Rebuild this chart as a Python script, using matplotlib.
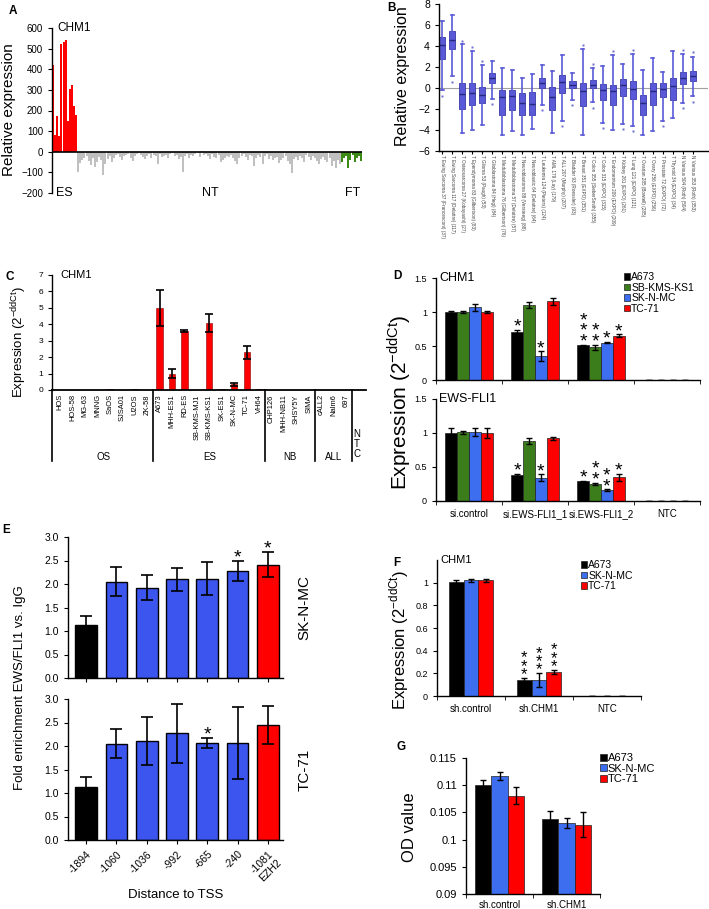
import numpy as np
import matplotlib.pyplot as plt
from matplotlib.patches import Patch

plt.rcParams['font.family'] = ['Liberation Sans', 'DejaVu Sans']
plt.rcParams['axes.linewidth'] = 1.0

# ---------------- data ----------------
# A: CHM1 expression across samples
a_es = [420, 80, 175, 75, 520, 530, 540, 150, 305, 325, 220, 180]
a_nt = [-100, -55, -40, -30, -20, -45, -65, -30, -75, -50, -25, -40, -115, -60, -35, -20,
        -50, -30, -15, -10, -25, -40, -20, -15, -10, -30, -45, -20, -10, -5, -15, -25,
        -35, -20, -10, -30, -15, -20, -60, -10, -25, -20, -15, -30, -10, -5, -20, -15,
        -35, -25, -100, -20, -10, -30, -15, -20, -10, -5, -25, 5, -15, -10, -20, -35,
        -10, -25, -30, -15, -50, -40, -30, -20, -25, -15, -30, -45, -60, -30, -20, -10,
        -25, -40, -15, -20, -70, -30, -15, -25, -60, -20, -10, -35, -20, -40, -30, -25,
        -55, -40, -30, -20, -45, -60, -105, -35, -25, -40, -20, -30, -50, -15, -25, -40,
        -20, -30, -45, -60, -35, -25, -40, -50, -30, -70, -45, -80, -40, -60]
a_ft = [-50, -30, -20, -80, -40, -15, -50, -30, -20, -45]

# B: box plot of datasets
b_labels = ['T Ewing Sarcoma 37 (Francesconi) (37)', 'T Ewing Sarcoma 117 (Delattre) (117)',
            'T Osteosarcoma 27 (Kobayashi) (27)', 'T Ependymoma 83 (Gilbertson) (83)',
            'T Glioma 53 (Paugh) (53)', 'T Glioblastoma 84 (Hegi) (84)',
            'T Medulloblastoma 76 (Gilbertson) (76)', 'T Medulloblastoma 57 (Delattre) (57)',
            'T Neuroblastoma 88 (Versteeg) (88)', 'T Neuroblastic 64 (Delattre) (64)',
            'T Leukemia 124 (Pieters) (124)', 'T AML 179 (Lay) (179)',
            'T ALL 207 (Murphy) (207)', 'T Bladder 93 (Roessler) (93)',
            'T Breast 351 (EXPO) (351)', 'T Colon 355 (SieberSmith) (355)',
            'T Colon 315 (EXPO) (315)', 'T Endometrium 209 (EXPO) (209)',
            'T Kidney 261 (EXPO) (261)', 'T Lung 121 (EXPO) (121)',
            'T Ovarian 285 (Bowtell) (285)', 'T Ovary 256 (EXPO) (256)',
            'T Prostate 72 (EXPO) (72)', 'T Thyroid 34 (EXPO) (34)',
            'N Various 504 (Roth) (504)', 'N Various 353 (Roth) (353)']
b_med = [4.1, 4.6, -0.6, -0.5, -0.7, 1.0, -0.9, -0.8, -1.4, -1.5, 0.5, -0.9, 0.6,
         0.3, -0.3, 0.3, -0.2, -0.3, 0.3, -0.1, -1.4, -0.3, -0.1, 0.2, 1.0, 1.1]
b_q1 = [2.8, 3.7, -2.0, -1.6, -1.4, 0.5, -2.6, -2.1, -2.6, -2.6, 0.0, -2.1, -0.5,
        0.0, -1.7, 0.0, -1.1, -1.6, -0.8, -1.0, -2.6, -1.6, -0.9, -1.1, 0.4, 0.7]
b_q3 = [4.9, 5.4, 0.5, 0.5, 0.1, 1.4, -0.2, -0.2, -0.5, -0.4, 1.0, 0.1, 1.2,
        0.7, 0.5, 0.8, 0.4, 0.3, 0.9, 0.7, -0.7, 0.5, 0.5, 1.0, 1.5, 1.6]
b_lo = [-0.2, 1.1, -4.3, -4.0, -3.5, -1.0, -4.5, -4.1, -4.5, -3.9, -1.6, -4.3, -3.1,
        -1.1, -4.5, -1.3, -3.3, -4.0, -3.4, -3.6, -4.5, -4.1, -3.1, -2.9, -1.4, -0.8]
b_hi = [6.4, 7.0, 4.2, 3.5, 2.2, 2.6, 1.9, 1.7, 1.0, 1.3, 2.2, 1.6, 3.1,
        1.4, 3.7, 1.9, 2.1, 3.1, 2.3, 3.2, 1.7, 2.9, 1.5, 3.5, 3.2, 3.0]
b_out = [[-0.8], [0.6], [4.5], [3.9], [2.6], [-1.5], [], [], [], [], [-2.1], [], [-3.6],
         [-1.6], [4.1], [2.3, -1.9], [-3.8], [3.5], [-3.9], [3.6, -4.1], [], [], [-3.6],
         [], [3.6, -1.9], [3.4, -1.3]]

# C: CHM1 in cell lines
c_groups = ['OS', 'ES', 'NB', 'ALL', '']
c_cells = [['HOS', 'HOS-58', 'MG-63', 'MNNG', 'SaOS', 'SJSA01', 'U2OS', 'ZK-58'],
           ['A673', 'MHH-ES1', 'RD-ES', 'SB-KMS-MJ1', 'SB-KMS-KS1', 'SK-ES1', 'SK-N-MC', 'TC-71', 'VH64'],
           ['CHP126', 'MHH-NB11', 'SHSY5Y', 'SIMA'],
           ['cALL2', 'Nalm6', '697'],
           ['']]
c_vals = [0.02, 0.02, 0.03, 0.02, 0.04, 0.03, 0.04, 0.03,
          5.0, 1.0, 3.6, 0.03, 4.05, 0.04, 0.35, 2.3, 0.05,
          0.02, 0.03, 0.02, 0.03,
          0.02, 0.03, 0.02,
          0.0]
c_err = [0, 0, 0, 0, 0, 0, 0, 0,
         1.1, 0.25, 0.05, 0, 0.55, 0, 0.08, 0.4, 0,
         0, 0, 0, 0,
         0, 0, 0,
         0]

# D: siRNA knockdown
d_groups = ['si.control', 'si.EWS-FLI1_1', 'si.EWS-FLI1_2', 'NTC']
d_lines = ['A673', 'SB-KMS-KS1', 'SK-N-MC', 'TC-71']
d_chm1 = [[1.0, 0.70, 0.51, 0], [1.0, 1.10, 0.48, 0], [1.07, 0.35, 0.55, 0], [1.0, 1.16, 0.65, 0]]
d_chm1_err = [[0.01, 0.03, 0.01, 0], [0.01, 0.04, 0.04, 0], [0.05, 0.07, 0.01, 0], [0.01, 0.05, 0.02, 0]]
d_chm1_stars = [['', '*', '***', ''], ['', '', '**', ''], ['', '*', '*', ''], ['', '', '*', '']]
d_ews = [[1.0, 0.38, 0.29, 0], [1.01, 0.88, 0.25, 0], [1.01, 0.34, 0.16, 0], [1.0, 0.92, 0.35, 0]]
d_ews_err = [[0.08, 0.02, 0.01, 0], [0.02, 0.04, 0.02, 0], [0.06, 0.05, 0.01, 0], [0.07, 0.02, 0.05, 0]]
d_ews_stars = [['', '*', '*', ''], ['', '', '**', ''], ['', '*', '**', ''], ['', '', '*', '']]

# E: ChIP enrichment
e_pos = ['-1894', '-1060', '-1036', '-992', '-665', '-240', '-1081\nEZH2']
e_sknmc = [1.12, 2.05, 1.92, 2.10, 2.11, 2.28, 2.41]
e_sknmc_err = [0.20, 0.31, 0.27, 0.25, 0.35, 0.21, 0.27]
e_sknmc_stars = ['', '', '', '', '', '*', '*']
e_tc71 = [1.13, 2.05, 2.10, 2.27, 2.07, 2.06, 2.45]
e_tc71_err = [0.20, 0.31, 0.51, 0.63, 0.11, 0.76, 0.40]
e_tc71_stars = ['', '', '', '', '*', '', '']

# F: shRNA knockdown
f_groups = ['sh.control', 'sh.CHM1', 'NTC']
f_lines = ['A673', 'SK-N-MC', 'TC-71']
f_vals = [[1.01, 0.14, 0], [1.02, 0.14, 0], [1.02, 0.21, 0]]
f_err = [[0.01, 0.02, 0], [0.01, 0.06, 0], [0.01, 0.02, 0]]
f_stars = [['', '***', ''], ['', '***', ''], ['', '***', '']]

# G: proliferation
g_groups = ['sh.control', 'sh.CHM1']
g_vals = [[0.1100, 0.1037], [0.1117, 0.1030], [0.1081, 0.1027]]
g_err = [[0.0010, 0.0015], [0.0007, 0.0009], [0.0016, 0.0023]]

RED = '#ff0000'
BLUE = '#3d6ef0'
GREEN = '#3a7d1a'

W, H = 709, 909
fig = plt.figure(figsize=(W / 100, H / 100), dpi=100)


def px_axes(x0, y0, x1, y1):
    return fig.add_axes([x0 / W, 1 - y1 / H, (x1 - x0) / W, (y1 - y0) / H])


def ftext(x, y, s, **kw):
    fig.text(x / W, 1 - y / H, s, **kw)


def only_left_bottom(ax):
    ax.spines['top'].set_visible(False)
    ax.spines['right'].set_visible(False)


def stars(ax, x, y, s, size=14, off=-4, spacing=0.5):
    if s:
        ax.annotate('\n'.join(s), xy=(x, y), xytext=(0, off), textcoords='offset points',
                    ha='center', va='bottom', fontsize=size, linespacing=spacing)


def grouped(ax, vals, errs, colors, width, star_list=None, size=14, off=-4, spacing=0.5):
    n = len(vals)
    for i, (v, e, c) in enumerate(zip(vals, errs, colors)):
        x = np.arange(len(v)) + (i - (n - 1) / 2) * width
        ax.bar(x, v, width=width, color=c, edgecolor='#202020', linewidth=0.5)
        ax.errorbar(x, v, yerr=e, fmt='none', ecolor='black', elinewidth=1, capsize=2.5, capthick=1)
        if star_list:
            for xi, vi, ei, si in zip(x, v, e, star_list[i]):
                stars(ax, xi, vi + ei, si, size=size, off=off, spacing=spacing)


def legend(ax, labels, colors, x, y, size):
    handles = [Patch(facecolor=c, edgecolor='#202020', linewidth=0.5) for c in colors]
    ax.legend(handles, labels, loc='upper left', bbox_to_anchor=(x / W, 1 - y / H),
              bbox_transform=fig.transFigure, frameon=False, fontsize=size,
              handlelength=0.6, handleheight=0.6, handletextpad=0.1, labelspacing=0.05,
              borderpad=0, borderaxespad=0)


# ---------------- A ----------------
axA = px_axes(52, 28, 362, 193)
a_vals = a_es + a_nt + a_ft
a_cols = [RED] * len(a_es) + ['#c0c0c0'] * len(a_nt) + ['#3d8b17'] * len(a_ft)
axA.bar(np.arange(len(a_vals)), a_vals, width=0.95, color=a_cols, linewidth=0)
axA.set_xlim(-0.5, len(a_vals) - 0.5)
axA.set_ylim(-200, 600)
axA.axhline(0, color='black', lw=1.2)
for s in ['top', 'right', 'bottom']:
    axA.spines[s].set_visible(False)
axA.set_xticks([])
axA.set_yticks(range(-200, 601, 100))
axA.tick_params(axis='y', labelsize=7, length=3)
axA.text(-0.5 + 2, -200, 'ES', ha='left', va='center', fontsize=9)
axA.text(len(a_es) + len(a_nt) / 2, -200, 'NT', ha='center', va='center', fontsize=9)
axA.text(len(a_es) + len(a_nt) + len(a_ft) / 2, -200, 'FT', ha='center', va='center', fontsize=9)
axA.text(2, 600, 'CHM1', ha='left', va='center', fontsize=8.5)
ftext(9, 110, 'Relative expression', rotation=90, ha='center', va='center', fontsize=11)

# ---------------- B ----------------
axB = px_axes(439, 4, 708, 151)
b_stats = [dict(med=m, q1=a, q3=b, whislo=lo, whishi=hi, fliers=o)
           for m, a, b, lo, hi, o in zip(b_med, b_q1, b_q3, b_lo, b_hi, b_out)]
b_x = np.arange(1, len(b_stats) + 1)
axB.axhline(0, color='#a0a0a0', lw=0.8, zorder=0)
axB.bxp(b_stats, positions=b_x, widths=0.6, patch_artist=True,
        boxprops=dict(facecolor='#5a5ad8', edgecolor='#3a3aa8', linewidth=0.6),
        medianprops=dict(color='#26267a', linewidth=1),
        whiskerprops=dict(color='#5a5ad8', linewidth=1.2),
        capprops=dict(color='#5a5ad8', linewidth=1.2),
        flierprops=dict(marker='s', markersize=1.8, markerfacecolor='#7070d0', markeredgecolor='none'))
axB.set_xlim(0.7, 27.5)
axB.set_ylim(-6, 8)
axB.set_yticks(range(-6, 9, 2))
axB.set_xticks(b_x)
axB.set_xticklabels(b_labels, rotation=-90, fontsize=3.3, color='#404040')
axB.tick_params(axis='y', labelsize=7.5, length=3)
axB.tick_params(axis='x', length=2, pad=1)
only_left_bottom(axB)
ftext(403, 76, 'Relative expression', rotation=90, ha='center', va='center', fontsize=11.5)

# ---------------- C ----------------
axC = px_axes(52, 275, 366, 390)
c_names = [c for g in c_cells for c in g]
c_x = np.arange(len(c_names))
axC.bar(c_x, c_vals, width=0.5, color=RED, edgecolor='#8b0000', linewidth=0.4)
axC.errorbar(c_x, c_vals, yerr=[e if e else np.nan for e in c_err], fmt='none', ecolor='black',
             elinewidth=1.2, capsize=3, capthick=1.2)
axC.set_xlim(-0.65, 24.6)
axC.set_ylim(0, 7)
axC.set_yticks(range(0, 8))
axC.tick_params(axis='y', labelsize=6, length=3)
axC.set_xticks(c_x)
axC.set_xticklabels(c_names, rotation=90, fontsize=5.4, va='top')
axC.tick_params(axis='x', length=0, pad=3)
only_left_bottom(axC)
axC.spines['bottom'].set_linewidth(1.3)
axC.plot([0, 0], [0, -0.62], transform=axC.transAxes, color='black', lw=1.2, clip_on=False)
edge = -0.5
for g, cells in zip(c_groups, c_cells):
    left = edge
    edge += len(cells)
    if g:
        axC.plot([edge, edge], [0, -0.62], transform=axC.get_xaxis_transform(), color='black',
                 lw=1.2, clip_on=False)
        axC.text(max(left, -0.65) + (edge - max(left, -0.65)) / 2, -0.58, g, ha='center',
                 va='center', fontsize=7, transform=axC.get_xaxis_transform())
axC.text(23.6, -0.47, 'N\nT\nC', ha='left', va='center', fontsize=7, linespacing=1.0,
         transform=axC.get_xaxis_transform())
axC.text(0.0, 7, 'CHM1', ha='left', va='center', fontsize=8)
ftext(19, 342, 'Expression (2$^{\\mathregular{-ddCt}}$)', rotation=90, ha='center', va='center',
      fontsize=9.5)

# ---------------- D ----------------
d_cols = ['black', GREEN, BLUE, RED]
for k, (y0, y1, vals, errs, st, title) in enumerate([
        (278, 380, d_chm1, d_chm1_err, d_chm1_stars, 'CHM1'),
        (399, 501, d_ews, d_ews_err, d_ews_stars, 'EWS-FLI1')]):
    ax = px_axes(436, y0, 700, y1)
    grouped(ax, vals, errs, d_cols, 0.18, st)
    ax.set_xlim(-0.5, 3.5)
    ax.set_ylim(0, 1.5)
    ax.set_yticks([0, 0.5, 1, 1.5])
    ax.set_yticklabels(['0', '0.5', '1', '1.5'])
    ax.tick_params(axis='y', labelsize=6.5, length=3)
    ax.set_xticks(np.arange(4))
    ax.set_xticklabels(d_groups if k == 1 else [''] * 4, fontsize=7)
    ax.set_xticks(np.arange(-0.5, 3.6, 1), minor=True)
    ax.tick_params(axis='x', which='major', length=0, pad=6)
    ax.tick_params(axis='x', which='minor', length=3)
    only_left_bottom(ax)
    ax.text(-0.45, 1.5, title, ha='left', va='center', fontsize=9)
    if k == 0:
        legend(ax, d_lines, d_cols, 624, 272, 7.5)
ftext(399, 402, 'Expression (2$^{\\mathregular{-ddCt}}$)', rotation=90, ha='center', va='center',
      fontsize=15)

# ---------------- E ----------------
e_cols = ['black'] + ['#3b55ee'] * 5 + [RED]
for k, (y0, y1, vals, errs, st, name) in enumerate([
        (537, 678, e_sknmc, e_sknmc_err, e_sknmc_stars, 'SK-N-MC'),
        (699, 840, e_tc71, e_tc71_err, e_tc71_stars, 'TC-71')]):
    ax = px_axes(68, y0, 283, y1)
    x = np.arange(len(vals))
    ax.bar(x, vals, width=0.72, color=e_cols, edgecolor='black', linewidth=1)
    ax.errorbar(x, vals, yerr=errs, fmt='none', ecolor='black', elinewidth=1.2, capsize=4, capthick=1.2)
    for xi, vi, ei, si in zip(x, vals, errs, st):
        stars(ax, xi, vi + ei, si, size=14, off=-4)
    ax.set_xlim(-0.6, 6.5)
    ax.set_ylim(0, 3)
    ax.set_yticks(np.arange(0, 3.01, 0.5))
    ax.set_yticklabels(['%.1f' % v for v in np.arange(0, 3.01, 0.5)])
    ax.tick_params(axis='y', labelsize=7.5, length=3)
    ax.set_xticks(x)
    if k == 1:
        ax.set_xticklabels(e_pos, rotation=45, ha='right', rotation_mode='anchor', fontsize=7.5,
                           multialignment='center')
    else:
        ax.set_xticklabels([''] * len(x))
    ax.tick_params(axis='x', length=3)
    only_left_bottom(ax)
    ax.text(1.1, 0.5, name, rotation=90, ha='center', va='center', fontsize=11,
            transform=ax.transAxes)
ftext(20, 688, 'Fold enrichment EWS/FLI1 vs. IgG', rotation=90, ha='center', va='center', fontsize=9.5)
ftext(176, 895, 'Distance to TSS', ha='center', va='center', fontsize=9.5)

# ---------------- F ----------------
f_cols = ['black', BLUE, RED]
axF = px_axes(437, 560, 641, 696)
grouped(axF, f_vals, f_err, f_cols, 0.22, f_stars, size=12, off=-3, spacing=0.45)
axF.set_xlim(-0.5, 2.5)
axF.set_ylim(0, 1.2)
axF.set_yticks(np.arange(0, 1.01, 0.2))
axF.set_yticklabels(['0', '0.2', '0.4', '0.6', '0.8', '1'])
axF.tick_params(axis='y', labelsize=6.5, length=3)
axF.set_xticks(np.arange(3))
axF.set_xticklabels(f_groups, fontsize=7)
axF.set_xticks(np.arange(-0.5, 2.6, 1), minor=True)
axF.tick_params(axis='x', which='major', length=0, pad=6)
axF.tick_params(axis='x', which='minor', length=3)
only_left_bottom(axF)
axF.text(-0.45, 1.2, 'CHM1', ha='left', va='center', fontsize=8)
legend(axF, f_lines, f_cols, 581, 560, 7.5)
ftext(399, 640, 'Expression (2$^{\\mathregular{-ddCt}}$)', rotation=90, ha='center', va='center',
      fontsize=12)

# ---------------- G ----------------
axG = px_axes(466, 758, 600, 894)
grouped(axG, g_vals, g_err, f_cols, 0.24)
axG.set_xlim(-0.5, 1.5)
axG.set_ylim(0.09, 0.115)
axG.set_yticks([0.09, 0.095, 0.1, 0.105, 0.11, 0.115])
axG.set_yticklabels(['0.09', '0.095', '0.1', '0.105', '0.11', '0.115'])
axG.tick_params(axis='y', labelsize=8, length=3)
axG.set_xticks(np.arange(2))
axG.set_xticklabels(g_groups, fontsize=7)
axG.set_xticks(np.arange(-0.5, 1.6, 1), minor=True)
axG.tick_params(axis='x', which='major', length=0, pad=4)
axG.tick_params(axis='x', which='minor', length=3)
only_left_bottom(axG)
legend(axG, f_lines, f_cols, 600, 753, 8)
ftext(409, 827, 'OD value', rotation=90, ha='center', va='center', fontsize=12)

# panel letters
for L, x, y in [('A', 13, 11), ('B', 392, 8), ('C', 10, 277), ('D', 397, 276),
                ('E', 6, 530), ('F', 397, 563), ('G', 401, 747)]:
    ftext(x, y, L, ha='center', va='center', fontsize=8.5, fontweight='bold')

fig.savefig('out.png', dpi=100)
